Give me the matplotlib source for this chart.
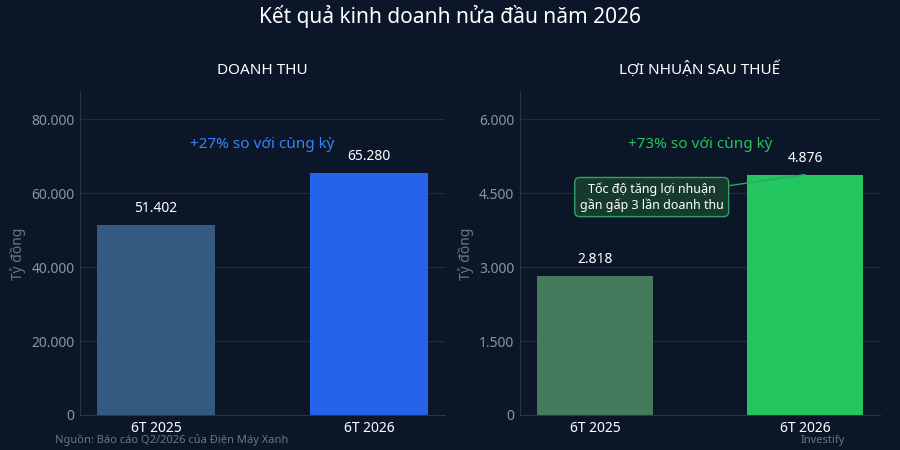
import matplotlib
matplotlib.use("Agg")
import matplotlib.pyplot as plt

plt.rcParams['font.family'] = ['Noto Sans', 'DejaVu Sans']

categories = ["6T 2025", "6T 2026"]
revenue = [51402, 65280]
profit = [2818, 4876]
rev_ticks = [0, 20000, 40000, 60000, 80000]
rev_labels = ["0", "20.000", "40.000", "60.000", "80.000"]
prof_ticks = [0, 1500, 3000, 4500, 6000]
prof_labels = ["0", "1.500", "3.000", "4.500", "6.000"]
rev_lbls = ["51.402", "65.280"]
prof_lbls = ["2.818", "4.876"]

BG = "#0b1629"
W, H = 900, 450
fig = plt.figure(figsize=(9, 4.5), dpi=100, facecolor=BG)

def ax_at(x0, y0, x1, y1):
    return fig.add_axes([x0 / W, 1 - y1 / H, (x1 - x0) / W, (y1 - y0) / H])

def style(ax, ticks, labels, ymax):
    ax.set_facecolor(BG)
    ax.set_xlim(-0.357, 1.357)
    ax.set_ylim(0, ymax)
    ax.set_yticks(ticks)
    ax.set_yticklabels(labels, color="#8a94a6", fontsize=10)
    ax.set_xticks([0, 1])
    ax.set_xticklabels(categories, color="white", fontsize=10, fontweight="bold")
    for s in ax.spines.values():
        s.set_visible(False)
    ax.spines['left'].set_visible(True)
    ax.spines['left'].set_color("#2a3548")
    ax.spines['bottom'].set_visible(True)
    ax.spines['bottom'].set_color("#2a3548")
    ax.tick_params(length=0, pad=4)
    ax.grid(axis="y", color="#1f2b3e", lw=0.8)
    ax.set_axisbelow(True)
    ax.set_ylabel("Tỷ đồng", color="#6b7585", fontsize=10)

ax1 = ax_at(80, 92, 445, 415)
style(ax1, rev_ticks, rev_labels, 87300)
ax1.bar([0, 1], revenue, width=0.55, color=["#355a82", "#2563eb"])
for i, (v, t) in enumerate(zip(revenue, rev_lbls)):
    ax1.text(i, v + 2500, t, ha="center", va="bottom", color="white", fontsize=10, fontweight="bold")
ax1.text(0.5, 73000, "+27% so với cùng kỳ", ha="center", va="center", color="#3b82f6", fontsize=11, fontweight="bold")

ax2 = ax_at(520, 92, 880, 415)
style(ax2, prof_ticks, prof_labels, 6550)
ax2.bar([0, 1], profit, width=0.55, color=["#457a5c", "#22c55e"])
for i, (v, t) in enumerate(zip(profit, prof_lbls)):
    ax2.text(i, v + 180, t, ha="center", va="bottom", color="white", fontsize=10, fontweight="bold")
ax2.text(0.5, 5480, "+73% so với cùng kỳ", ha="center", va="center", color="#22c55e", fontsize=11, fontweight="bold")
ax2.annotate("Tốc độ tăng lợi nhuận\ngần gấp 3 lần doanh thu", xy=(1, profit[1]), xytext=(0.27, 4420),
             ha="center", va="center", color="white", fontsize=9,
             bbox=dict(boxstyle="round,pad=0.4", fc="#173a2e", ec="#2fa365", lw=1),
             arrowprops=dict(arrowstyle="-", color="#2fa365", lw=1, shrinkA=0, shrinkB=0))

fig.text(0.5, 1 - 17 / H, "Kết quả kinh doanh nửa đầu năm 2026", ha="center", va="center", color="white", fontsize=15, fontweight="bold")
fig.text(262 / W, 1 - 70 / H, "DOANH THU", ha="center", va="center", color="white", fontsize=11, fontweight="bold")
fig.text(700 / W, 1 - 70 / H, "LỢI NHUẬN SAU THUẾ", ha="center", va="center", color="white", fontsize=11, fontweight="bold")
fig.text(55 / W, 1 - 440 / H, "Nguồn: Báo cáo Q2/2026 của Điện Máy Xanh", ha="left", va="center", color="#6b7585", fontsize=8)
fig.text(845 / W, 1 - 440 / H, "Investify", ha="right", va="center", color="#6b7585", fontsize=8, fontweight="bold")

fig.savefig("out.png", dpi=100, facecolor=BG)
